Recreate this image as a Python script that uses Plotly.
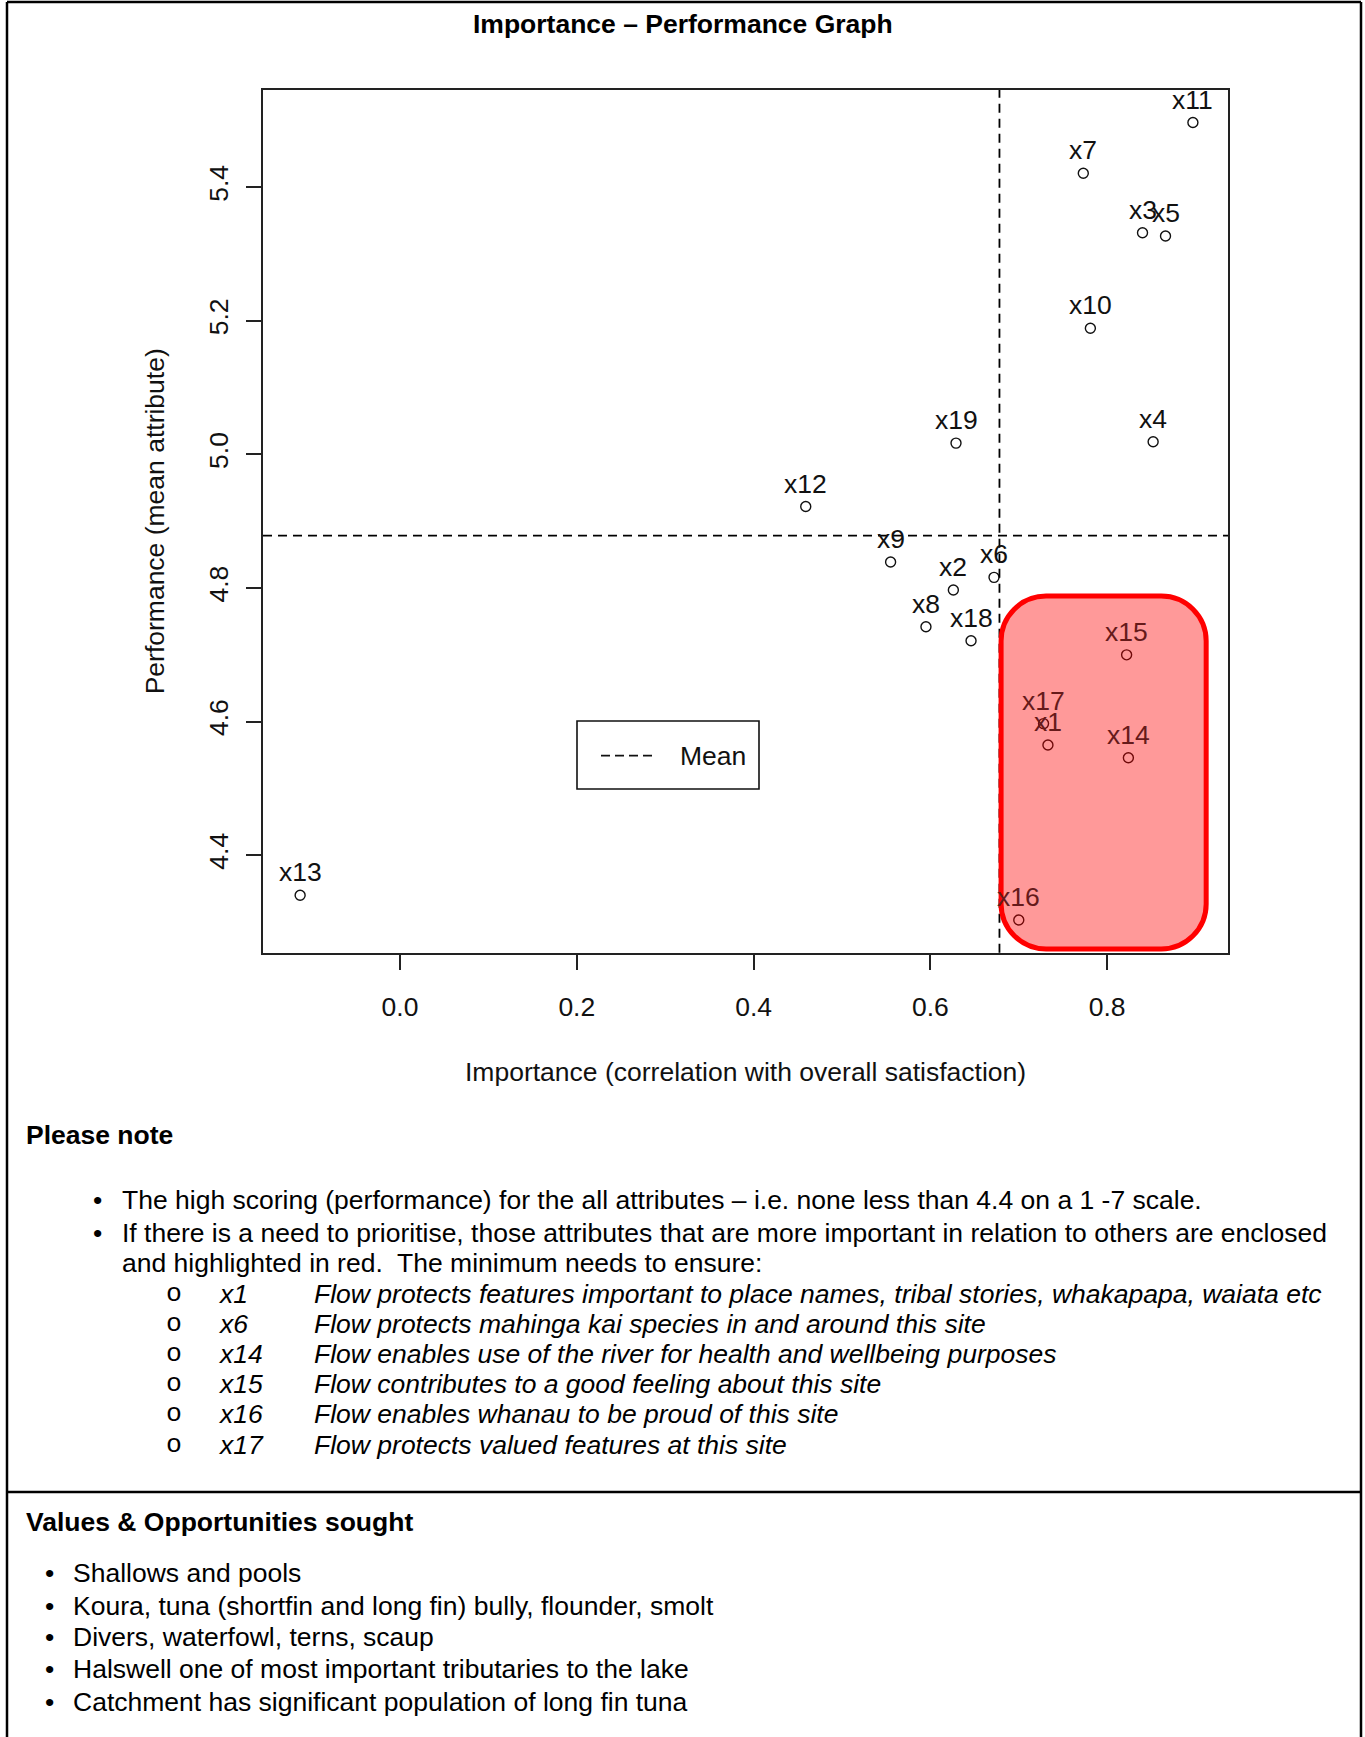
import plotly.graph_objects as go

# ---------------- data ----------------
labels = ["x1", "x2", "x3", "x4", "x5", "x6", "x7", "x8", "x9", "x10",
          "x11", "x12", "x13", "x14", "x15", "x16", "x17", "x18", "x19"]
importance = [0.733, 0.626, 0.840, 0.852, 0.866, 0.672, 0.773, 0.595, 0.555, 0.781,
              0.897, 0.459, -0.113, 0.824, 0.822, 0.700, 0.728, 0.646, 0.629]
performance = [4.565, 4.797, 5.332, 5.019, 5.327, 4.816, 5.421, 4.742, 4.839, 5.189,
               5.497, 4.922, 4.340, 4.546, 4.700, 4.303, 4.597, 4.721, 5.017]
x_ticks = [0.0, 0.2, 0.4, 0.6, 0.8]
y_ticks = [4.4, 4.6, 4.8, 5.0, 5.2, 5.4]

title_text = "Importance \u2013 Performance Graph"
x_title = "Importance (correlation with overall satisfaction)"
y_title = "Performance (mean attribute)"
legend_label = "Mean"

note_heading = "Please note"
note_bullets = [
    "The high scoring (performance) for the all attributes \u2013 i.e. none less than 4.4 on a 1 -7 scale.",
    "If there is a need to prioritise, those attributes that are more important in relation to others are enclosed",
]
note_continuation = "and highlighted in red.\u00a0 The minimum needs to ensure:"
priority_codes = ["x1", "x6", "x14", "x15", "x16", "x17"]
priority_desc = [
    "Flow protects features important to place names, tribal stories, whakapapa, waiata etc",
    "Flow protects mahinga kai species in and around this site",
    "Flow enables use of the river for health and wellbeing purposes",
    "Flow contributes to a good feeling about this site",
    "Flow enables whanau to be proud of this site",
    "Flow protects valued features at this site",
]
values_heading = "Values & Opportunities sought"
values_items = [
    "Shallows and pools",
    "Koura, tuna (shortfin and long fin) bully, flounder, smolt",
    "Divers, waterfowl, terns, scaup",
    "Halswell one of most important tributaries to the lake",
    "Catchment has significant population of long fin tuna",
]

# highlighted region (data units)
highlight = dict(x0=0.680, x1=0.912, y0=4.2597, y1=4.788)

# ---------------- layout helpers ----------------
W, H = 1365, 1737
FONT = "Liberation Sans, Arial, Helvetica, sans-serif"
FS = 26.5
PL, PR, PT, PB = 263, 1228, 90, 952.7     # plot box in px
XR = [-0.155, 0.9367]
YR = [4.254, 5.5457]


def px(xp):
    return xp / W


def py(yp):
    return 1 - yp / H


mean_x = sum(importance) / len(importance)
mean_y = sum(performance) / len(performance)

fig = go.Figure()

fig.add_trace(go.Scatter(
    x=importance, y=performance, mode="markers",
    marker=dict(symbol="circle-open", size=10, color="#111111", line=dict(width=1.4, color="#111111")),
    showlegend=False, hoverinfo="text", text=labels,
))

shapes = []
annotations = []

# mean lines
shapes.append(dict(type="line", xref="x", yref="y domain", x0=mean_x, x1=mean_x, y0=0, y1=1,
                   line=dict(color="black", width=1.8, dash="9px,6px"), layer="above"))
shapes.append(dict(type="line", xref="x domain", yref="y", x0=0, x1=1, y0=mean_y, y1=mean_y,
                   line=dict(color="black", width=1.8, dash="9px,6px"), layer="above"))

# highlight rounded box
x0, x1, y0, y1 = highlight["x0"], highlight["x1"], highlight["y0"], highlight["y1"]
rx = 45 / ((PR - PL) / (XR[1] - XR[0]))
ry = 45 / ((PB - PT) / (YR[1] - YR[0]))
k = 0.5523
path = (
    f"M {x0 + rx},{y1} L {x1 - rx},{y1} "
    f"C {x1 - rx + k * rx},{y1} {x1},{y1 - ry + k * ry} {x1},{y1 - ry} "
    f"L {x1},{y0 + ry} "
    f"C {x1},{y0 + ry - k * ry} {x1 - rx + k * rx},{y0} {x1 - rx},{y0} "
    f"L {x0 + rx},{y0} "
    f"C {x0 + rx - k * rx},{y0} {x0},{y0 + ry - k * ry} {x0},{y0 + ry} "
    f"L {x0},{y1 - ry} "
    f"C {x0},{y1 - ry + k * ry} {x0 + rx - k * rx},{y1} {x0 + rx},{y1} Z"
)
shapes.append(dict(type="path", xref="x", yref="y", path=path,
                   fillcolor="rgba(255,0,0,0.4)", line=dict(color="#ff0000", width=5), layer="above"))

# point labels
for lab, xv, yv in zip(labels, importance, performance):
    inside = x0 <= xv <= x1 and y0 <= yv <= y1
    annotations.append(dict(x=xv, y=yv, xref="x", yref="y", text=lab, showarrow=False,
                            yshift=23, xanchor="center", yanchor="middle",
                            font=dict(family=FONT, size=FS, color="#661a1a" if inside else "#111111")))

# legend box (manual, R style)
shapes.append(dict(type="rect", xref="paper", yref="paper", x0=px(577), x1=px(759), y0=py(789), y1=py(721),
                   line=dict(color="#111111", width=1.6), fillcolor="white", layer="above"))
shapes.append(dict(type="line", xref="paper", yref="paper", x0=px(601), x1=px(652), y0=py(755.7), y1=py(755.7),
                   line=dict(color="#111111", width=1.8, dash="9px,5px"), layer="above"))
annotations.append(dict(x=px(678), y=py(756), xref="paper", yref="paper", text=legend_label, showarrow=False,
                        xanchor="left", yanchor="middle", font=dict(family=FONT, size=FS, color="#111111")))

# titles
annotations.append(dict(x=px(683), y=py(24), xref="paper", yref="paper", text=f"<b>{title_text}</b>",
                        showarrow=False, xanchor="center", yanchor="middle",
                        font=dict(family=FONT, size=FS, color="black")))
annotations.append(dict(x=px((PL + PR) / 2), y=py(1072), xref="paper", yref="paper", text=x_title,
                        showarrow=False, xanchor="center", yanchor="middle",
                        font=dict(family=FONT, size=FS, color="#111111")))
annotations.append(dict(x=px(155), y=py((PT + PB) / 2), xref="paper", yref="paper", text=y_title,
                        showarrow=False, xanchor="center", yanchor="middle", textangle=-90,
                        font=dict(family=FONT, size=FS, color="#111111")))


# ---------------- document text ----------------
def txt(xp, yp, s, bold=False, italic=False, family=FONT):
    if bold:
        s = f"<b>{s}</b>"
    if italic:
        s = f"<i>{s}</i>"
    annotations.append(dict(x=px(xp), y=py(yp), xref="paper", yref="paper", text=s, showarrow=False,
                            xanchor="left", yanchor="middle",
                            font=dict(family=family, size=FS, color="black")))


txt(24, 1135, note_heading, bold=True)
line_y = [1200, 1233]
for yv, s in zip(line_y, note_bullets):
    txt(91, yv, "\u2022")
    txt(120, yv, s)
txt(120, 1263, note_continuation)
sub_y = [1294, 1324, 1354, 1384, 1414, 1445]
for yv, c, d in zip(sub_y, priority_codes, priority_desc):
    txt(164, yv, "o", family="Liberation Mono, Courier New, monospace")
    txt(216, yv, c, italic=True)
    txt(312, yv, d, italic=True)

txt(24, 1522, values_heading, bold=True)
val_y = [1573, 1606, 1637, 1669, 1702]
for yv, s in zip(val_y, values_items):
    txt(43, yv, "\u2022")
    txt(71, yv, s)

# page frame lines
frame = dict(color="black", width=2.5)
shapes.append(dict(type="line", xref="paper", yref="paper", x0=px(7), x1=px(7), y0=0, y1=py(2), line=frame))
shapes.append(dict(type="line", xref="paper", yref="paper", x0=px(1361), x1=px(1361), y0=0, y1=py(2), line=frame))
shapes.append(dict(type="line", xref="paper", yref="paper", x0=px(7), x1=px(1361), y0=py(2), y1=py(2), line=frame))
shapes.append(dict(type="line", xref="paper", yref="paper", x0=px(7), x1=px(1361), y0=py(1492), y1=py(1492), line=frame))

axis_common = dict(showline=True, mirror=True, linecolor="#222222", linewidth=2,
                   ticks="outside", ticklen=15, tickwidth=1.6, tickcolor="#222222",
                   showgrid=False, zeroline=False,
                   tickfont=dict(family=FONT, size=FS, color="#111111"))

fig.update_layout(
    width=W, height=H,
    margin=dict(l=0, r=0, t=0, b=0),
    paper_bgcolor="white", plot_bgcolor="white",
    showlegend=False,
    xaxis=dict(range=XR, domain=[px(PL), px(PR)],
               tickvals=x_ticks, ticktext=[f"{v:.1f}" for v in x_ticks],
               ticklabelstandoff=14, **axis_common),
    yaxis=dict(range=YR, domain=[py(PB), py(PT)],
               tickvals=y_ticks, ticktext=[f"{v:.1f}" for v in y_ticks],
               tickangle=-90, ticklabelstandoff=7, **axis_common),
    shapes=shapes,
    annotations=annotations,
)

fig.write_html("out.html", config={"displayModeBar": False},
               post_script="document.body.style.margin='0';document.body.style.overflow='hidden';")
